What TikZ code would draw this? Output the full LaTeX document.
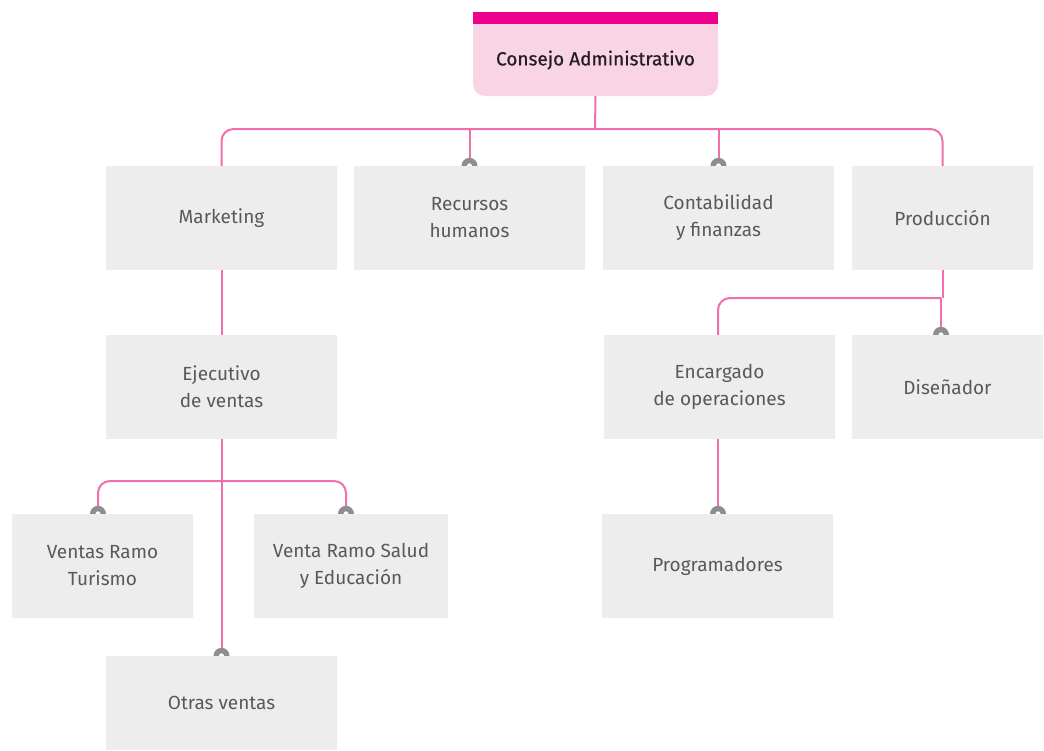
\documentclass[tikz,border=0pt]{standalone}
\usepackage{fontspec}
\setmainfont{Fira Sans}
\newfontfamily\headfont{Fira Sans}[FakeBold=0.7]
\usetikzlibrary{calc}
\definecolor{boxfill}{HTML}{EDEDED}
\definecolor{boxtext}{HTML}{58595B}
\definecolor{linkc}{HTML}{F06EAA}
\definecolor{dotc}{HTML}{8E8E90}
\definecolor{magbar}{HTML}{EC008C}
\definecolor{pinkfill}{HTML}{F9D4E4}
\definecolor{headtext}{HTML}{231F20}
\tikzset{
  box/.style={rectangle, fill=boxfill, text=boxtext, align=center, inner sep=0pt,
    font=\fontsize{19}{27}\selectfont, minimum height=104pt},
  link/.style={draw=linkc, line width=2pt},
  bus/.style={link, rounded corners=12pt},
}
\newcommand{\hdot}[1]{%
  \fill[dotc] ([xshift=-8pt]#1) arc[start angle=180, end angle=0, radius=8pt] -- cycle;
  \fill[white] ([xshift=-2.5pt]#1) arc[start angle=180, end angle=0, radius=2.5pt] -- cycle;}
\begin{document}
\begin{tikzpicture}[x=1pt,y=-1pt]
\useasboundingbox (0,0) rectangle (1044,750);
% head box
\node[rectangle, rounded corners=12pt, fill=pinkfill, minimum width=245pt, minimum height=72pt,
  inner sep=0pt, text=headtext, font=\headfont\fontsize{19}{27}\selectfont] (cons) at (595.5,60) {Consejo Administrativo};
\fill[pinkfill] (473,24) rectangle (718,44);
\fill[magbar] (473,12) rectangle (718,24);
% level 1
\node[box, minimum width=231pt] (mk) at (221.5,218) {Marketing};
\node[box, minimum width=231pt] (rh) at (469.5,218) {Recursos\\humanos};
\node[box, minimum width=231pt] (cf) at (718.5,218) {Contabilidad\\y finanzas};
\node[box, minimum width=181pt] (pr) at (942.5,218) {Producción};
% level 2
\node[box, minimum width=231pt] (ej) at (221.5,387) {Ejecutivo\\de ventas};
\node[box, minimum width=231pt] (en) at (719.5,387) {Encargado\\de operaciones};
\node[box, minimum width=191pt] (di) at (947.5,387) {Diseñador};
% level 3
\node[box, minimum width=181pt] (vt) at (102.5,566) {Ventas Ramo\\Turismo};
\node[box, minimum width=194pt] (vs) at (351,566) {Venta Ramo Salud\\y Educación};
\node[box, minimum width=231pt] (pg) at (717.5,566) {Programadores};
% level 4
\node[box, minimum width=231pt, minimum height=94pt] (ov) at (221.5,703) {Otras ventas};
% connector end points
\coordinate (b1) at (595,129);
\coordinate (b2) at (222,481);
\coordinate (b3) at (941,298);
\coordinate (vtn) at ($(vt.north)+(-4.5,0)$);
\coordinate (vsn) at ($(vs.north)+(-5,0)$);
\coordinate (enn) at ($(en.north)+(-1.5,0)$);
\coordinate (ens) at ($(en.south)+(-1.5,0)$);
\coordinate (pgn) at ($(pg.north)+(0.5,0)$);
\coordinate (din) at (b3 |- di.north);
% connectors
\draw[link] (cons.south) -- (b1);
\draw[bus] (mk.north) |- (b1) -| (pr.north);
\draw[link] (rh.north) -- (rh.north |- b1);
\draw[link] (cf.north) -- (cf.north |- b1);
\draw[link] (mk.south) -- (ej.north);
\draw[link] (ej.south) -- (ov.north);
\draw[bus] (vtn) |- (b2) -| (vsn);
\draw[link] (pr.south) -- (pr.south |- b3);
\draw[link] (b3) -- (din);
\draw[bus] (enn) |- (b3);
\draw[link] (ens) -- (pgn);
% dots
\hdot{rh.north}
\hdot{cf.north}
\hdot{din}
\hdot{vtn}
\hdot{vsn}
\hdot{ov.north}
\hdot{pgn}
\end{tikzpicture}
\end{document}
